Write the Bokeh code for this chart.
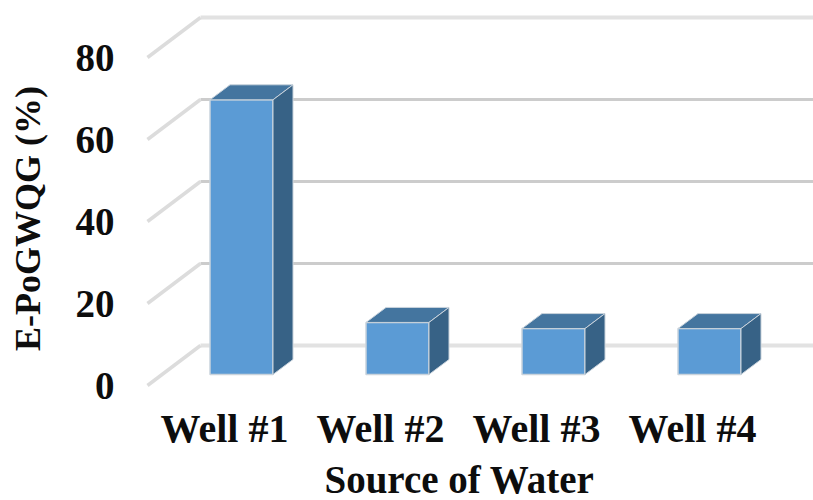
from bokeh.plotting import figure
from bokeh.models import Range1d, FixedTicker
from bokeh.embed import file_html
from bokeh.resources import INLINE

wells = ["Well #1", "Well #2", "Well #3", "Well #4"]
values = [67, 12.7, 11.2, 11.2]
y_ticks = [0, 20, 40, 60, 80]
x_title = "Source of Water"
y_title = "E-PoGWQG (%)"
FONT = "Liberation Serif"
TEXT = "#0d0d0d"

# pixel geometry of the pseudo-3D projection
PX_Y = 4.1          # px per value unit
PX_X = 156.0        # px per category
OX, OY = 224, 385   # page position of category 0 label centre / value 0
WALL_DX, WALL_DY = 53 / PX_X, 40 / PX_Y     # depth of the grid floor
BAR_BASE = 11 / PX_Y                        # lift of a bar's front face
BAR_X_OFF = -14.5 / PX_X                    # bar left edge relative to label centre
BAR_W = 63 / PX_X
BAR_DX, BAR_DY = 20 / PX_X, 15 / PX_Y       # depth of a bar
GRID_X0 = (147 - OX) / PX_X

W, H = 813, 500
L, B = 105, 64      # frame chosen so that the axis titles centre where the reference has them
FW, FH = W - L, H - B
x_end = (W - OX) / PX_X
x_start = (L - OX) / PX_X
y_start = (OY - FH) / PX_Y
y_end = OY / PX_Y

p = figure(frame_width=FW, frame_height=FH, output_backend="svg", toolbar_location=None,
           x_range=Range1d(x_start, x_end), y_range=Range1d(y_start, y_end),
           min_border_left=L, min_border_bottom=B, min_border_top=0, min_border_right=0)
p.outline_line_color = None
p.grid.visible = False

p.xaxis.ticker = FixedTicker(ticks=list(range(len(wells))))
p.xaxis.major_label_overrides = {i: w for i, w in enumerate(wells)}
p.yaxis.ticker = FixedTicker(ticks=y_ticks)
for ax in (p.xaxis[0], p.yaxis[0]):
    ax.axis_line_color = None
    ax.major_tick_line_color = None
    ax.minor_tick_line_color = None
    ax.major_label_text_font = FONT
    ax.major_label_text_font_style = "bold"
    ax.major_label_text_color = TEXT
    ax.axis_label_text_font = FONT
    ax.axis_label_text_font_style = "bold"
    ax.axis_label_text_color = TEXT
p.xaxis.major_label_text_font_size = "40px"
p.yaxis.major_label_text_font_size = "39px"
p.xaxis.axis_label_text_font_size = "39px"
p.yaxis.axis_label_text_font_size = "36px"
p.xaxis.axis_label = x_title
p.yaxis.axis_label = y_title
p.xaxis.major_label_standoff = -37
p.xaxis.axis_label_standoff = 4
p.yaxis.major_label_standoff = -15
p.yaxis.axis_label_standoff = 25

for t in y_ticks:
    back = t + WALL_DY
    col = "#e2e2e2" if t in (0, 80) else "#cccccc"
    width = 4 if t in (0, 80) else 3
    p.line([GRID_X0 + WALL_DX, x_end], [back, back], line_color=col, line_width=width)
    p.line([GRID_X0, GRID_X0 + WALL_DX], [t, back], line_color="#dcdcdc", line_width=3.5)

for i, v in enumerate(values):
    x0 = i + BAR_X_OFF
    x1 = x0 + BAR_W
    y0 = BAR_BASE
    y1 = y0 + v
    edge = "#c9d3dc"
    p.patch([x0, x1, x1, x0], [y0, y0, y1, y1], fill_color="#5B9BD5", line_color=edge, line_width=1.5)
    p.patch([x0, x1, x1 + BAR_DX, x0 + BAR_DX], [y1, y1, y1 + BAR_DY, y1 + BAR_DY],
            fill_color="#44759F", line_color=edge, line_width=1)
    p.patch([x1, x1 + BAR_DX, x1 + BAR_DX, x1], [y0, y0 + BAR_DY, y1 + BAR_DY, y1],
            fill_color="#376286", line_color=edge, line_width=1)

open("out.html", "w").write(file_html(p, INLINE))
